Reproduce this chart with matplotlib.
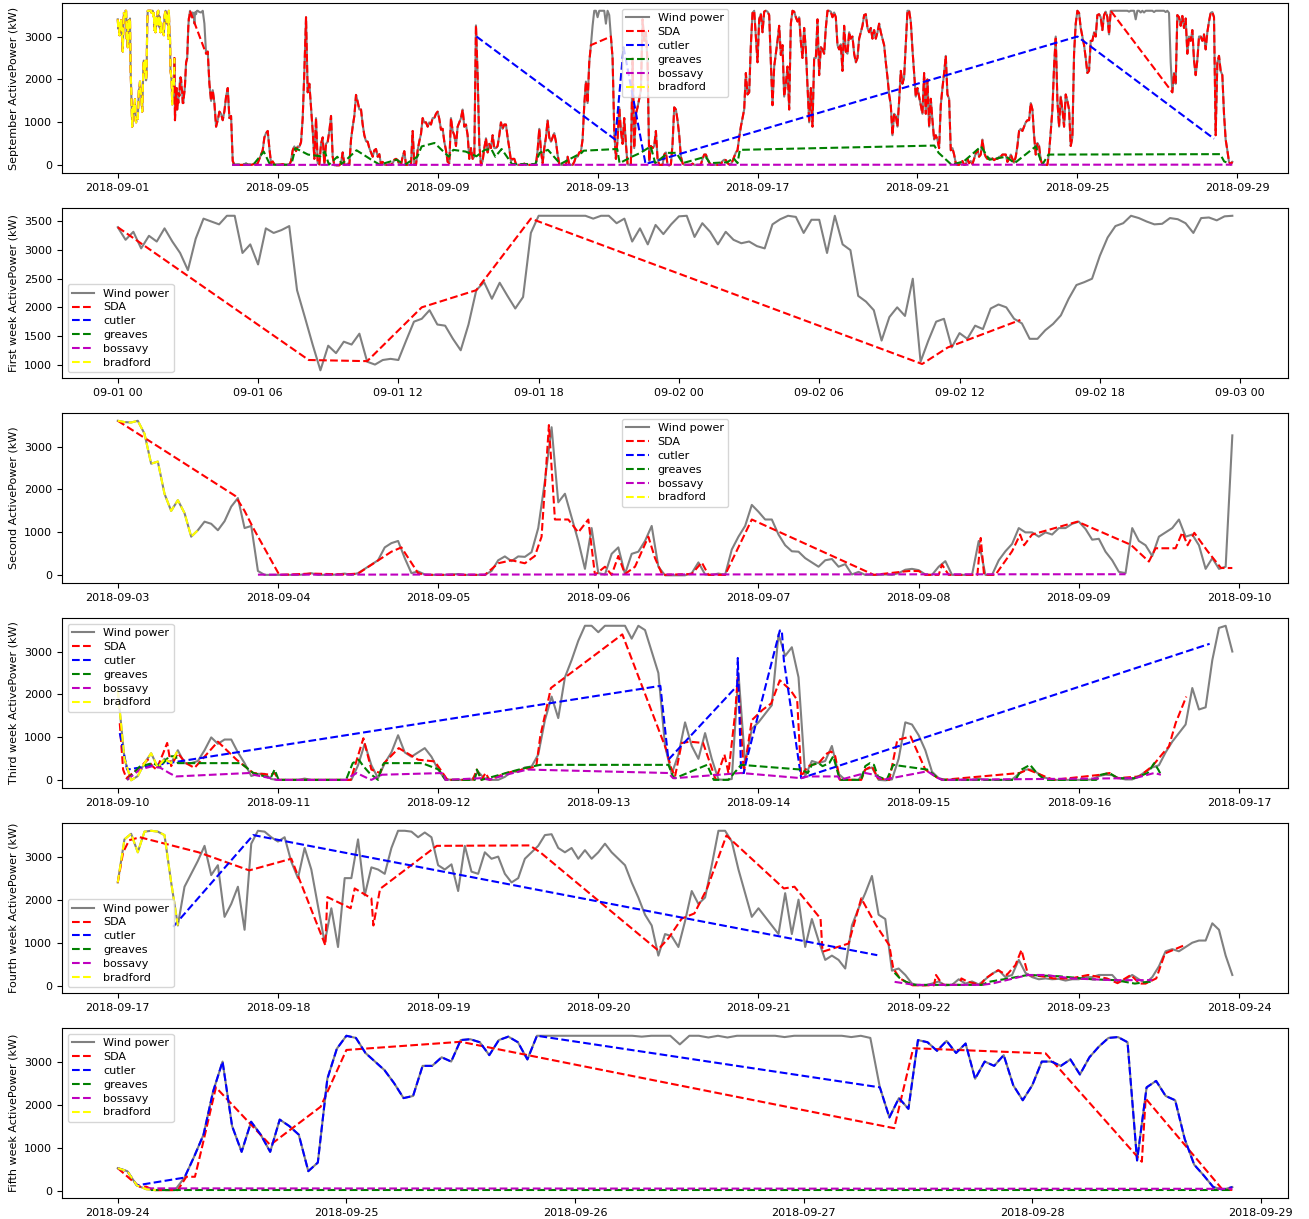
import numpy as np
import matplotlib.pyplot as plt
import matplotlib.dates as mdates

# Wind farm active power, September 2018 (kW)
# week 1: 20-minute samples from 09-01 00:00, later weeks: hourly samples
wk1_step = 1 / 3
wk1_kw = [3400, 3180, 3320, 3030, 3250, 3150, 3380, 3150, 2950, 2650, 3200, 3550,
          3500, 3450, 3600, 3600, 2950, 3100, 2750, 3380, 3300, 3350, 3420, 2300,
          1830, 1350, 900, 1330, 1200, 1400, 1350, 1540, 1050, 1000, 1080, 1100,
          1080, 1420, 1750, 1800, 1950, 1700, 1680, 1450, 1250, 1700, 2300, 2440,
          2150, 2430, 2200, 1980, 2180, 3300, 3600, 3600, 3600, 3600, 3600, 3600,
          3600, 3550, 3600, 3600, 3470, 3550, 3150, 3380, 3100, 3440, 3280, 3450,
          3590, 3600, 3230, 3470, 3320, 3100, 3320, 3180, 3120, 3150, 3070, 3030,
          3450, 3540, 3600, 3580, 3300, 3530, 3530, 2950, 3600, 3100, 3000, 2200,
          2100, 1950, 1420, 1830, 2000, 1850, 2500, 1050, 1420, 1750, 1800, 1300,
          1550, 1450, 1680, 1620, 1980, 2050, 2000, 1800, 1720, 1450, 1450, 1600,
          1710, 1860, 2150, 2390, 2440, 2500, 2900, 3220, 3420, 3470, 3600, 3560,
          3500, 3450, 3460, 3560, 3540, 3470, 3300, 3560, 3570, 3520, 3590, 3600]

wk2_kw = [3600, 3570, 3560, 3600, 3300, 2600, 2650, 1900, 1500, 1750, 1450, 900,
          1050, 1250, 1200, 1050, 1260, 1600, 1800, 1100, 1150, 100, 10, 10,
          10, 10, 10, 10, 20, 50, 10, 10, 10, 20, 40, 10,
          50, 150, 250, 350, 650, 750, 800, 400, 50, 90, 20, 10,
          10, 10, 20, 30, 10, 10, 10, 10, 100, 350, 440, 330,
          440, 430, 540, 1100, 2200, 3450, 1700, 1900, 1350, 800, 150, 1100,
          50, 20, 500, 650, 30, 500, 550, 800, 1150, 200, 0, 0,
          0, 0, 50, 300, 20, 10, 40, 10, 600, 900, 1150, 1640,
          1480, 1300, 1300, 950, 700, 560, 550, 400, 300, 200, 350, 380,
          200, 260, 20, 80, 10, 10, 10, 20, 10, 50, 130, 150,
          120, 20, 10, 200, 330, 10, 10, 10, 10, 800, 10, 10,
          350, 560, 730, 1100, 1000, 1000, 900, 1000, 950, 1100, 1100, 1200,
          1250, 1080, 830, 850, 550, 350, 80, 50, 1100, 800, 700, 450,
          900, 1000, 1100, 1300, 900, 950, 700, 150, 400, 150, 200, 3260]

wk3_kw = [2100, 500, 0, 100, 400, 630, 300, 500, 400, 700, 400, 400,
          450, 700, 1000, 850, 950, 950, 650, 400, 100, 150, 150, 30,
          10, 10, 10, 10, 40, 10, 10, 10, 10, 10, 10, 10,
          350, 850, 350, 50, 400, 650, 1050, 650, 550, 650, 750, 550,
          250, 30, 10, 10, 10, 10, 200, 30, 10, 10, 80, 200,
          200, 300, 320, 600, 1400, 1950, 1450, 2400, 2800, 3250, 3600, 3600,
          3450, 3600, 3600, 3600, 3600, 3300, 3600, 3500, 3000, 2500, 800, 150,
          600, 1350, 800, 500, 1100, 500, 20, 10, 30, 2500, 400, 1200,
          1350, 1550, 1750, 3400, 2900, 3100, 2400, 100, 450, 400, 450, 800,
          150, 10, 10, 10, 250, 300, 10, 0, 20, 500, 1350, 1300,
          1050, 700, 200, 50, 10, 10, 10, 10, 10, 40, 10, 10,
          10, 10, 20, 150, 250, 250, 150, 60, 10, 10, 10, 10,
          10, 10, 20, 100, 130, 120, 50, 20, 20, 100, 200, 300,
          350, 650, 900, 1100, 1300, 2150, 1650, 1700, 2800, 3550, 3600, 3000]

wk4_kw = [2400, 3400, 3530, 3100, 3580, 3600, 3580, 3500, 2400, 1400, 2300, 2600,
          2900, 3250, 2570, 2800, 1600, 1900, 2300, 1300, 3300, 3600, 3580, 3450,
          3350, 3450, 2880, 2500, 3200, 2700, 1850, 1000, 1800, 900, 2500, 2500,
          3400, 2100, 2750, 2700, 2600, 3200, 3600, 3600, 3580, 3450, 3560, 3450,
          2800, 2700, 2820, 2200, 3250, 2650, 2600, 3100, 2950, 3000, 2600, 2400,
          2500, 2950, 3100, 3250, 3500, 3520, 3200, 3100, 3200, 2950, 3150, 2950,
          3100, 3300, 3100, 2950, 2800, 2400, 2050, 1650, 1400, 700, 1200, 1150,
          900, 1500, 2200, 1900, 2050, 2800, 3600, 3600, 3350, 2700, 2150, 1600,
          1800, 1600, 1400, 1200, 2150, 1200, 2000, 900, 1550, 1050, 600, 700,
          600, 400, 1400, 1800, 2150, 2550, 1650, 1550, 350, 400, 250, 50,
          10, 10, 50, 100, 10, 20, 150, 50, 100, 30, 150, 280,
          360, 200, 250, 600, 300, 200, 150, 170, 150, 160, 120, 150,
          150, 200, 200, 250, 250, 250, 80, 150, 250, 150, 60, 200,
          450, 800, 850, 800, 900, 1000, 1050, 1050, 1450, 1300, 700, 250]

wk5_kw = [520, 450, 120, 30, 10, 10, 10, 300, 780, 1300, 2300, 3000,
          1500, 900, 1600, 1300, 900, 1650, 1500, 1300, 450, 650, 2600, 3300,
          3600, 3550, 3200, 3000, 2800, 2500, 2150, 2200, 2900, 2900, 3100, 3000,
          3500, 3520, 3450, 3150, 3500, 3580, 3450, 3050, 3600, 3600, 3600, 3600,
          3600, 3600, 3600, 3600, 3600, 3600, 3600, 3580, 3600, 3600, 3600, 3400,
          3600, 3600, 3560, 3600, 3560, 3600, 3600, 3600, 3600, 3600, 3570, 3600,
          3600, 3600, 3600, 3600, 3600, 3570, 3600, 3550, 2400, 1700, 2150, 1900,
          3500, 3450, 3250, 3480, 3200, 3420, 2600, 3000, 2900, 3150, 2450, 2100,
          2450, 3000, 3000, 2900, 3050, 2700, 3100, 3350, 3550, 3570, 3450, 700,
          2400, 2550, 2200, 2100, 1200, 600, 350, 80, 20, 80]

# September overview overlays (hours from 09-01 00:00)
sep_sda_spans = [(0, 43.5), (53, 284), (296, 596), (633, 669)]
sep_bradford_spans = [(0, 34)]
sep_cutler_h = [215.3, 298.6, 303.6, 316.8, 576, 658]
sep_cutler_kw = [3000, 600, 2750, 30, 3000, 620]
sep_greaves_h = [68.6, 81.4, 85.2, 87.6, 91.4, 104.2, 106.6, 114.2, 121.7, 124.3,
                 126.7, 131.8, 134.4, 143.3, 152.2, 157.2, 167.3, 172.3, 179.8, 182.4,
                 190.1, 198.7, 201.4, 208.8, 215.3, 220.3, 224.2, 226.6, 230.4, 236.6,
                 250.6, 253.2, 258.2, 265.7, 278.4, 279.6, 299.8, 301.2, 308.6, 313.7,
                 319.9, 322.6, 330.2, 335.3, 339.1, 352.8, 355.4, 365.8, 369.6, 372,
                 373.4, 490.1, 492.7, 500.4, 507.8, 518.2, 523.2, 533.3, 538.3, 551,
                 554.9, 558.7, 661.7, 664.1, 666.7]
sep_greaves_kw = [15, 15, 200, 320, 15, 15, 400, 250, 210, 320,
                  15, 200, 30, 350, 130, 15, 130, 15, 200, 440,
                  520, 200, 360, 320, 210, 360, 380, 200, 380, 30,
                  30, 290, 360, 30, 290, 340, 380, 50, 200, 290,
                  440, 50, 290, 290, 50, 200, 50, 70, 170, 50,
                  360, 460, 290, 15, 90, 440, 130, 200, 50, 440,
                  15, 250, 260, 90, 50]
sep_bossavy_h = [68.6, 669]
sep_bossavy_kw = [10, 15]

# first week (hours from 09-01 00:00)
w1_sda_h = [0, 8.17, 10.67, 13.0, 15.33, 17.67, 34.4, 35.5, 38.6]
w1_sda_kw = [3400, 1080, 1060, 2000, 2300, 3550, 1010, 1300, 1780]

# second week (hours from 09-03 00:00)
w2_sda_h = [0, 17.6, 19, 20.3, 24.2, 29, 34, 36, 41, 42.5, 45, 46, 55, 57, 59,
            61, 62.5, 63.5, 64.6, 65.5, 67.5, 69, 70.5, 71.5, 73, 74, 75, 76, 77.5,
            79.5, 80.5, 81.6, 86, 87.5, 88.5, 91, 95, 113.3, 118.5, 120, 121, 123,
            123.5, 124.5, 128.8, 129.3, 129.8, 131.5, 134, 135.2, 135.8, 137, 143.8,
            151.8, 154.5, 155.5, 158.5, 159.5, 160.3, 161.3, 163.3, 165.3, 167]
w2_sda_kw = [3600, 1850, 1500, 1100, 10, 40, 20, 40, 550, 650, 50, 10, 10, 280, 350,
             280, 450, 900, 3500, 1300, 1300, 1000, 1300, 10, 200, 10, 450, 30, 200,
             900, 400, 10, 30, 300, 10, 10, 1300, 10, 100, 100, 10, 10,
             250, 10, 10, 870, 10, 10, 560, 950, 700, 950, 1250,
             710, 320, 630, 630, 1000, 700, 990, 560, 170, 170]
w2_bossavy_h = [21, 151]
w2_bossavy_kw = [15, 25]
w2_bradford_spans = [(0, 12)]

# third week (hours from 09-10 00:00)
w3_sda_h = [0.3, 0.8, 1.3, 3.3, 4.5, 5.2, 5.8, 6.8, 7.4, 8.0,
            9.0, 10.2, 11.5, 15.0, 17.8, 20.3, 22.9, 23.5, 24.1, 34.9,
            36.8, 38.0, 39.3, 39.9, 42.1, 45.0, 47.5, 49.4, 53.2, 53.8,
            54.5, 55.1, 55.7, 58.2, 59.5, 62.7, 63.3, 64.9, 75.6, 82.2,
            82.9, 83.5, 84.5, 85.7, 87.7, 89.6, 90.9, 91.5, 92.5, 92.9,
            93.8, 94.4, 95.0, 96.6, 97.9, 99.2, 100.8, 101.8, 102.4, 103.4,
            105.0, 106.3, 106.9, 107.5, 108.2, 111.4, 112.0, 113.0, 113.9, 115.6,
            116.8, 118.8, 121.0, 122.9, 123.6, 135.1, 136.4, 138.9, 140.2, 147.3,
            148.6, 149.8, 153.1, 155.0, 155.6, 156.6, 157.5, 158.5, 160.1]
w3_sda_kw = [1330, 250, 50, 300, 480, 330, 250, 630, 870, 330,
             630, 400, 290, 900, 480, 170, 130, 170, 10, 10,
             980, 250, 170, 400, 750, 480, 440, 10, 10, 250,
             10, 170, 10, 170, 210, 320, 1020, 2150, 3400, 710,
             290, 90, 870, 900, 870, 10, 600, 170, 1560, 2400,
             170, 790, 1400, 1640, 1790, 2330, 2100, 1870, 90, 330,
             400, 630, 670, 560, 10, 10, 250, 330, 50, 10,
             940, 1020, 250, 50, 10, 170, 250, 90, 10, 130,
             170, 50, 90, 330, 440, 630, 790, 1330, 1950]
w3_cutler_h = [0.3, 1.4, 81.3, 82.5, 92.8, 92.9, 93.4, 93.8, 94.1, 99.2, 99.5, 99.8, 102.4, 163.6]
w3_cutler_kw = [1100, 250, 2200, 480, 2200, 2850, 170, 170, 400, 3490, 3490, 2800, 50, 3180]
w3_greaves_h = [1.4, 3.3, 5.2, 6.4, 7.7, 8.7, 9.0, 18.4, 19.1, 20.3,
                22.9, 23.5, 24.1, 34.2, 35.2, 36.1, 36.8, 37.7, 39.0, 39.6,
                39.9, 45.6, 48.1, 49.1, 53.5, 53.8, 54.5, 58.2, 60.1, 62.0,
                63.3, 82.5, 83.2, 83.5, 88.3, 89.3, 91.5, 93.4, 102.4, 103.4,
                104.0, 105.0, 105.6, 106.6, 107.2, 107.9, 108.2, 111.4, 112.0, 112.7,
                113.3, 113.9, 115.2, 116.2, 121.3, 122.9, 123.6, 134.5, 135.4, 136.7,
                137.7, 138.9, 146.6, 147.3, 148.6, 149.8, 152.4, 154.3, 155.3, 155.9, 156.3]
w3_greaves_kw = [10, 320, 400, 320, 560, 560, 400, 400, 320, 170,
                 50, 250, 10, 10, 400, 480, 330, 170, 10, 330,
                 400, 400, 250, 10, 10, 250, 10, 170, 250, 320,
                 360, 360, 90, 50, 360, 10, 10, 360, 250, 170,
                 360, 400, 330, 400, 560, 170, 10, 10, 330, 400,
                 360, 90, 10, 360, 250, 50, 10, 10, 250, 360,
                 170, 10, 10, 130, 170, 50, 50, 170, 400, 250, 130]
w3_bossavy_h = [1.4, 3.3, 5.2, 6.4, 7.7, 8.7, 19.7, 20.3, 22.9, 23.8,
                34.2, 34.9, 35.8, 37.4, 38.0, 39.0, 39.6, 48.8, 49.1, 54.5,
                55.7, 58.2, 61.4, 82.5, 83.2, 83.5, 93.4, 102.4, 103.4, 107.9,
                108.2, 112.0, 113.3, 114.6, 121.3, 122.9, 123.6, 152.4, 155.3, 156.3]
w3_bossavy_kw = [10, 250, 330, 290, 170, 90, 170, 130, 50, 10,
                 10, 90, 170, 50, 10, 90, 130, 170, 10, 50,
                 15, 130, 250, 170, 50, 50, 170, 50, 90, 90,
                 10, 170, 130, 10, 210, 50, 10, 50, 170, 130]
w3_bradford_spans = [(0, 9)]

# fourth week (hours from 09-17 00:00)
w4_sda_h = [0, 0.8, 1.7, 3.3, 12.1, 19.7, 26.0, 31.1, 31.4, 34.9,
            35.5, 38.0, 38.3, 39.3, 47.8, 61.7, 63.3, 80.9, 82.5, 84.5,
            86.4, 88.3, 91.2, 99.8, 101.4, 105.3, 105.6, 109.5, 111.4, 113.6,
            115.6, 116.2, 117.2, 118.1, 119.1, 122.3, 122.6, 123.6, 126.1, 126.4,
            127.4, 129.3, 130.0, 131.9, 133.2, 134.5, 135.4, 136.4, 139.0, 140.2,
            142.8, 145.4, 148.2, 149.8, 151.8, 153.1, 154.0, 155.6, 156.3, 156.9, 159.8]
w4_sda_kw = [2400, 3100, 3380, 3450, 3100, 2680, 2950, 940, 2060, 1800,
             2260, 2030, 1400, 2250, 3250, 3260, 3100, 830, 1100, 1560,
             1680, 2260, 3490, 2260, 2300, 1560, 790, 980, 2030, 1410,
             940, 400, 170, 90, 10, 10, 250, 20, 20, 170,
             90, 20, 170, 360, 250, 480, 830, 250, 210, 170,
             170, 250, 170, 60, 250, 50, 50, 170, 480, 750, 940]
w4_cutler_h = [8.3, 20.3, 113.8]
w4_cutler_kw = [1370, 3500, 710]
w4_greaves_h = [116.4, 117.2, 118.1, 119.4, 129.5, 130.5, 133.5, 136.4, 141, 146, 149.5, 152.4, 154.3, 155.0]
w4_greaves_kw = [300, 170, 90, 20, 20, 90, 170, 250, 220, 150, 130, 50, 90, 90]
w4_bossavy_h = [116.4, 119.4, 129.5, 131, 136.4, 139, 143, 149, 155]
w4_bossavy_kw = [90, 20, 20, 50, 250, 250, 170, 130, 130]
w4_bradford_spans = [(0, 9)]

# fifth week (hours from 09-24 00:00)
w5_sda_h = [0, 1.4, 2.3, 3.0, 3.7, 6.3, 7.2, 8.1, 8.7, 10.3, 16.0,
            21.3, 24.0, 36.0, 81.5, 83.5, 97.4, 107.5, 107.9, 116.0, 117.0]
w5_sda_kw = [520, 250, 90, 90, 10, 10, 320, 320, 870, 2400, 1060,
             1950, 3270, 3460, 1450, 3310, 3190, 670, 2140, 15, 15]
w5_cutler_spans = [(0, 2.5), (7, 44.8), (80, 117)]
w5_greaves_h = [3.5, 117]
w5_greaves_kw = [5, 5]
w5_bossavy_h = [3, 117]
w5_bossavy_kw = [50, 40]
w5_bradford_spans = [(0, 4)]

names = ['SDA', 'cutler', 'greaves', 'bossavy', 'bradford']
colors = ['red', 'blue', 'green', 'm', 'yellow']


def stamps(start, hours):
    mins = np.round(np.asarray(hours, dtype=float) * 60).astype(int)
    return np.datetime64(start) + mins.astype('timedelta64[m]')


def pick(hours, kw, spans):
    # keep the wind samples that fall inside the given hour windows
    hours = np.asarray(hours, dtype=float)
    kw = np.asarray(kw, dtype=float)
    keep = np.zeros(len(hours), dtype=bool)
    for a, b in spans:
        keep |= (hours >= a) & (hours <= b)
    return hours[keep], kw[keep]


wk1_h = np.arange(len(wk1_kw)) * wk1_step
wk2_h = np.arange(len(wk2_kw), dtype=float)
wk3_h = np.arange(len(wk3_kw), dtype=float)
wk4_h = np.arange(len(wk4_kw), dtype=float)
wk5_h = np.arange(len(wk5_kw), dtype=float)

sep_h = np.concatenate([wk1_h, 48 + wk2_h, 216 + wk3_h, 384 + wk4_h, 552 + wk5_h])
sep_kw = np.concatenate([wk1_kw, wk2_kw, wk3_kw, wk4_kw, wk5_kw])

panels = [
    dict(start='2018-09-01T00:00', h=sep_h, kw=sep_kw,
         ylabel='September ActivePower (kW)', loc='upper center',
         SDA=pick(sep_h, sep_kw, sep_sda_spans),
         cutler=(sep_cutler_h, sep_cutler_kw),
         greaves=(sep_greaves_h, sep_greaves_kw),
         bossavy=(sep_bossavy_h, sep_bossavy_kw),
         bradford=pick(sep_h, sep_kw, sep_bradford_spans)),
    dict(start='2018-09-01T00:00', h=wk1_h, kw=wk1_kw,
         ylabel='First week ActivePower (kW)', loc='lower left',
         SDA=(w1_sda_h, w1_sda_kw)),
    dict(start='2018-09-03T00:00', h=wk2_h, kw=wk2_kw,
         ylabel='Second ActivePower (kW)', loc='upper center',
         SDA=(w2_sda_h, w2_sda_kw),
         bossavy=(w2_bossavy_h, w2_bossavy_kw),
         bradford=pick(wk2_h, wk2_kw, w2_bradford_spans)),
    dict(start='2018-09-10T00:00', h=wk3_h, kw=wk3_kw,
         ylabel='Third week ActivePower (kW)', loc='upper left',
         SDA=(w3_sda_h, w3_sda_kw),
         cutler=(w3_cutler_h, w3_cutler_kw),
         greaves=(w3_greaves_h, w3_greaves_kw),
         bossavy=(w3_bossavy_h, w3_bossavy_kw),
         bradford=pick(wk3_h, wk3_kw, w3_bradford_spans)),
    dict(start='2018-09-17T00:00', h=wk4_h, kw=wk4_kw,
         ylabel='Fourth week ActivePower (kW)', loc='lower left',
         SDA=(w4_sda_h, w4_sda_kw),
         cutler=(w4_cutler_h, w4_cutler_kw),
         greaves=(w4_greaves_h, w4_greaves_kw),
         bossavy=(w4_bossavy_h, w4_bossavy_kw),
         bradford=pick(wk4_h, wk4_kw, w4_bradford_spans)),
    dict(start='2018-09-24T00:00', h=wk5_h, kw=wk5_kw,
         ylabel='Fifth week ActivePower (kW)', loc='upper left',
         SDA=(w5_sda_h, w5_sda_kw),
         cutler=pick(wk5_h, wk5_kw, w5_cutler_spans),
         greaves=(w5_greaves_h, w5_greaves_kw),
         bossavy=(w5_bossavy_h, w5_bossavy_kw),
         bradford=pick(wk5_h, wk5_kw, w5_bradford_spans)),
]

fig, axes = plt.subplots(6, 1, figsize=(13.09, 12.19), dpi=100)
fig.subplots_adjust(left=0.0474, right=0.984, top=0.9975, bottom=0.0172, hspace=0.206)

for i, (ax, p) in enumerate(zip(axes, panels)):
    ax.plot(stamps(p['start'], p['h']), p['kw'], color='grey', lw=1.5, label='Wind power')
    for name, color in zip(names, colors):
        h, kw = p.get(name, ([], []))
        ax.plot(stamps(p['start'], h), kw, '--', color=color, lw=1.5, label=name)
    ax.set_ylabel(p['ylabel'], fontsize=8)
    ax.tick_params(labelsize=8)
    ax.legend(loc=p['loc'], fontsize=8, labelspacing=0.35)
    if i == 0:
        ax.xaxis.set_major_locator(mdates.DayLocator(bymonthday=range(1, 32, 4)))
        ax.xaxis.set_major_formatter(mdates.DateFormatter('%Y-%m-%d'))
    elif i == 1:
        ax.xaxis.set_major_locator(mdates.HourLocator(byhour=[0, 6, 12, 18]))
        ax.xaxis.set_major_formatter(mdates.DateFormatter('%m-%d %H'))
    else:
        ax.xaxis.set_major_locator(mdates.DayLocator())
        ax.xaxis.set_major_formatter(mdates.DateFormatter('%Y-%m-%d'))

fig.savefig('out.png', dpi=100)
